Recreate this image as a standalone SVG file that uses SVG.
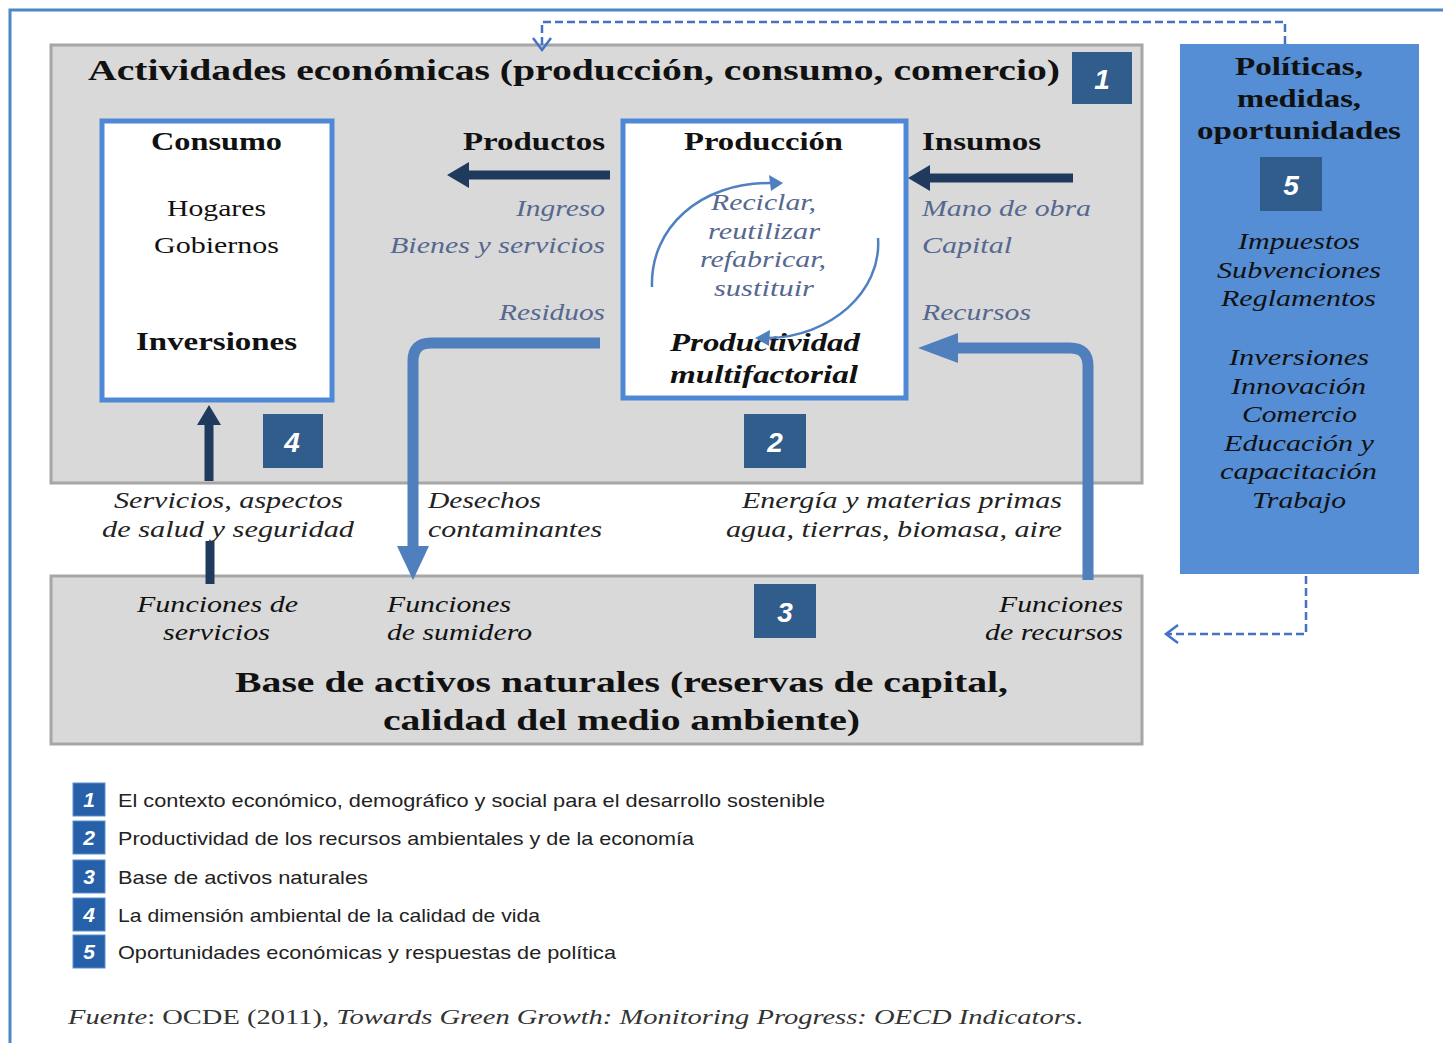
<svg xmlns="http://www.w3.org/2000/svg" width="1443" height="1043" viewBox="0 0 1443 1043">
<defs>
<style>
.ser{font-family:"Liberation Serif","Times New Roman",serif}
.b{font-weight:bold}
.i{font-style:italic}
.t1{font-size:30px;fill:#111}
.hd{font-size:25px;fill:#111}
.lab{font-size:23px;fill:#111}
.lab2{font-size:23px;fill:#222}
.blu{font-size:23px;fill:#56688f}
.pol{font-size:23px;fill:#111}
.num{font-family:"Liberation Sans",Arial,sans-serif;font-style:italic;font-weight:bold;font-size:28px;fill:#fff}
.lnum{font-family:"Liberation Sans",Arial,sans-serif;font-style:italic;font-weight:bold;font-size:21px;fill:#fff}
.leg{font-family:"Liberation Sans",Arial,sans-serif;font-size:19px;fill:#222}
.gray{fill:#d9d9d9;stroke:#a6a6a6;stroke-width:3}
.wbox{fill:#fff;stroke:#4f88d6;stroke-width:5}
.nbox{fill:#315d8d}
.lbox{fill:#2660a8;stroke:#5b8fd0;stroke-width:1}
.navy{stroke:#1f3a5c;stroke-width:9;fill:none}
.navyf{fill:#1f3a5c}
.bl{stroke:#4f7fbd;stroke-width:11;fill:none}
.blf{fill:#4f7fbd}
.dash{stroke:#4472c4;stroke-width:2.5;fill:none;stroke-dasharray:8,4}
.cyc{stroke:#4f80c0;stroke-width:2.5;fill:none}
</style>
</defs>
<rect x="0" y="0" width="1443" height="1043" fill="#fff"/>
<g id="frame">
<path d="M10,1043 V10 H1443" stroke="#4f86c6" stroke-width="3" fill="none"/>
</g>

<g id="actividades">
<rect class="gray" x="51" y="45" width="1091" height="438"/>
<text class="ser b t1" x="88" y="80" textLength="972" lengthAdjust="spacingAndGlyphs">Actividades económicas (producción, consumo, comercio)</text>
<rect class="nbox" x="1072" y="52" width="60" height="52"/>
<text class="num" x="1102" y="89" text-anchor="middle">1</text>
</g>

<g id="consumo">
<rect class="wbox" x="102" y="121" width="230" height="279"/>
<text class="ser b hd" x="151" y="150" textLength="131" lengthAdjust="spacingAndGlyphs">Consumo</text>
<text class="ser lab" x="167" y="216" textLength="99" lengthAdjust="spacingAndGlyphs">Hogares</text>
<text class="ser lab" x="154" y="253" textLength="125" lengthAdjust="spacingAndGlyphs">Gobiernos</text>
<text class="ser b hd" x="136" y="350" textLength="161" lengthAdjust="spacingAndGlyphs">Inversiones</text>
<rect class="nbox" x="263" y="414" width="60" height="54"/>
<text class="num" x="292" y="452" text-anchor="middle">4</text>
</g>

<g id="produccion">
<rect class="wbox" x="623" y="121" width="283" height="277"/>
<text class="ser b hd" x="684" y="150" textLength="159" lengthAdjust="spacingAndGlyphs">Producción</text>
<text class="ser i blu" x="711" y="210" textLength="105" lengthAdjust="spacingAndGlyphs">Reciclar,</text>
<text class="ser i blu" x="708" y="239" textLength="112" lengthAdjust="spacingAndGlyphs">reutilizar</text>
<text class="ser i blu" x="700" y="267" textLength="126" lengthAdjust="spacingAndGlyphs">refabricar,</text>
<text class="ser i blu" x="714" y="296" textLength="100" lengthAdjust="spacingAndGlyphs">sustituir</text>
<text class="ser b i hd" x="670" y="351" textLength="190" lengthAdjust="spacingAndGlyphs">Productividad</text>
<text class="ser b i hd" x="670" y="383" textLength="188" lengthAdjust="spacingAndGlyphs">multifactorial</text>
<path class="cyc" d="M652,287 C650,228 700,182 772,183"/>
<polygon class="blf" points="783,183 769,175 771,191"/>
<path class="cyc" d="M878,238 C882,292 830,337 768,338"/>
<polygon class="blf" points="755,338 770,330 769,346"/>
<rect class="nbox" x="744" y="414" width="62" height="54"/>
<text class="num" x="775" y="452" text-anchor="middle">2</text>
</g>

<g id="labels-flows">
<text class="ser b hd" x="463" y="150" textLength="142" lengthAdjust="spacingAndGlyphs">Productos</text>
<text class="ser i blu" x="516" y="216" textLength="89" lengthAdjust="spacingAndGlyphs">Ingreso</text>
<text class="ser i blu" x="390" y="253" textLength="215" lengthAdjust="spacingAndGlyphs">Bienes y servicios</text>
<text class="ser i blu" x="499" y="320" textLength="106" lengthAdjust="spacingAndGlyphs">Residuos</text>
<text class="ser b hd" x="922" y="150" textLength="119" lengthAdjust="spacingAndGlyphs">Insumos</text>
<text class="ser i blu" x="922" y="216" textLength="169" lengthAdjust="spacingAndGlyphs">Mano de obra</text>
<text class="ser i blu" x="922" y="253" textLength="90" lengthAdjust="spacingAndGlyphs">Capital</text>
<text class="ser i blu" x="922" y="320" textLength="109" lengthAdjust="spacingAndGlyphs">Recursos</text>
<text class="ser i lab2" x="114" y="508" textLength="229" lengthAdjust="spacingAndGlyphs">Servicios, aspectos</text>
<text class="ser i lab2" x="102" y="537" textLength="252" lengthAdjust="spacingAndGlyphs">de salud y seguridad</text>
<text class="ser i lab2" x="428" y="508" textLength="113" lengthAdjust="spacingAndGlyphs">Desechos</text>
<text class="ser i lab2" x="428" y="537" textLength="174" lengthAdjust="spacingAndGlyphs">contaminantes</text>
<text class="ser i lab2" x="742" y="508" textLength="320" lengthAdjust="spacingAndGlyphs">Energía y materias primas</text>
<text class="ser i lab2" x="726" y="537" textLength="336" lengthAdjust="spacingAndGlyphs">agua, tierras, biomasa, aire</text>
</g>

<g id="base">
<rect class="gray" x="51" y="576" width="1091" height="168"/>
<text class="ser i lab" x="137" y="612" textLength="161" lengthAdjust="spacingAndGlyphs">Funciones de</text>
<text class="ser i lab" x="163" y="640" textLength="107" lengthAdjust="spacingAndGlyphs">servicios</text>
<text class="ser i lab" x="387" y="612" textLength="124" lengthAdjust="spacingAndGlyphs">Funciones</text>
<text class="ser i lab" x="387" y="640" textLength="145" lengthAdjust="spacingAndGlyphs">de sumidero</text>
<text class="ser i lab" x="999" y="612" textLength="124" lengthAdjust="spacingAndGlyphs">Funciones</text>
<text class="ser i lab" x="985" y="640" textLength="138" lengthAdjust="spacingAndGlyphs">de recursos</text>
<rect class="nbox" x="754" y="584" width="62" height="54"/>
<text class="num" x="785" y="622" text-anchor="middle">3</text>
<text class="ser b t1" x="235" y="692" textLength="773" lengthAdjust="spacingAndGlyphs">Base de activos naturales (reservas de capital,</text>
<text class="ser b t1" x="383" y="730" textLength="477" lengthAdjust="spacingAndGlyphs">calidad del medio ambiente)</text>
</g>

<g id="politicas">
<rect x="1180" y="44" width="239" height="530" fill="#558ed5"/>
<text class="ser b hd" x="1235" y="75" textLength="128" lengthAdjust="spacingAndGlyphs">Políticas,</text>
<text class="ser b hd" x="1237" y="107" textLength="124" lengthAdjust="spacingAndGlyphs">medidas,</text>
<text class="ser b hd" x="1197" y="139" textLength="204" lengthAdjust="spacingAndGlyphs">oportunidades</text>
<rect class="nbox" x="1260" y="157" width="62" height="54"/>
<text class="num" x="1291" y="195" text-anchor="middle">5</text>
<text class="ser i pol" x="1238" y="249" textLength="122" lengthAdjust="spacingAndGlyphs">Impuestos</text>
<text class="ser i pol" x="1217" y="278" textLength="164" lengthAdjust="spacingAndGlyphs">Subvenciones</text>
<text class="ser i pol" x="1221" y="306" textLength="155" lengthAdjust="spacingAndGlyphs">Reglamentos</text>
<text class="ser i pol" x="1229" y="365" textLength="140" lengthAdjust="spacingAndGlyphs">Inversiones</text>
<text class="ser i pol" x="1231" y="394" textLength="135" lengthAdjust="spacingAndGlyphs">Innovación</text>
<text class="ser i pol" x="1242" y="422" textLength="115" lengthAdjust="spacingAndGlyphs">Comercio</text>
<text class="ser i pol" x="1224" y="451" textLength="150" lengthAdjust="spacingAndGlyphs">Educación y</text>
<text class="ser i pol" x="1220" y="479" textLength="157" lengthAdjust="spacingAndGlyphs">capacitación</text>
<text class="ser i pol" x="1252" y="508" textLength="94" lengthAdjust="spacingAndGlyphs">Trabajo</text>
</g>

<g id="connectors">
<line class="navy" x1="610" y1="175" x2="466" y2="175"/>
<polygon class="navyf" points="447,175 469,162 469,188"/>
<line class="navy" x1="1073" y1="178" x2="928" y2="178"/>
<polygon class="navyf" points="908,178 930,165 930,191"/>
<line class="navy" x1="209" y1="481" x2="209" y2="422"/>
<polygon class="navyf" points="209,405 197,425 221,425"/>
<line class="navy" x1="210" y1="541" x2="210" y2="584"/>
<path class="bl" d="M600,343 H431 Q413,343 413,361 V548"/>
<polygon class="blf" points="397,546 429,546 413,580"/>
<path class="bl" d="M1088,580 V366 Q1088,348 1070,348 H956"/>
<polygon class="blf" points="958,333 958,363 918,348"/>
<path class="dash" d="M1285,44 V22 H542 V48"/>
<path d="M533,38 L542,50 L551,38" stroke="#4472c4" stroke-width="2.5" fill="none"/>
<path class="dash" d="M1306,576 V634 H1168"/>
<path d="M1178,625 L1166,634 L1178,643" stroke="#4472c4" stroke-width="2.5" fill="none"/>
</g>

<g id="legend">
<rect class="lbox" x="73" y="783" width="32" height="33"/>
<text class="lnum" x="89" y="807" text-anchor="middle">1</text>
<text class="leg" x="118" y="807" textLength="707" lengthAdjust="spacingAndGlyphs">El contexto económico, demográfico y social para el desarrollo sostenible</text>
<rect class="lbox" x="73" y="821" width="32" height="33"/>
<text class="lnum" x="89" y="845" text-anchor="middle">2</text>
<text class="leg" x="118" y="845" textLength="576" lengthAdjust="spacingAndGlyphs">Productividad de los recursos ambientales y de la economía</text>
<rect class="lbox" x="73" y="860" width="32" height="33"/>
<text class="lnum" x="89" y="884" text-anchor="middle">3</text>
<text class="leg" x="118" y="884" textLength="250" lengthAdjust="spacingAndGlyphs">Base de activos naturales</text>
<rect class="lbox" x="73" y="898" width="32" height="33"/>
<text class="lnum" x="89" y="922" text-anchor="middle">4</text>
<text class="leg" x="118" y="922" textLength="422" lengthAdjust="spacingAndGlyphs">La dimensión ambiental de la calidad de vida</text>
<rect class="lbox" x="73" y="935" width="32" height="33"/>
<text class="lnum" x="89" y="959" text-anchor="middle">5</text>
<text class="leg" x="118" y="959" textLength="498" lengthAdjust="spacingAndGlyphs">Oportunidades económicas y respuestas de política</text>
</g>

<g id="fuente">
<text class="ser" x="68" y="1024" font-size="22" fill="#333" textLength="1015" lengthAdjust="spacingAndGlyphs"><tspan font-style="italic">Fuente</tspan>: OCDE (2011), <tspan font-style="italic">Towards Green Growth: Monitoring Progress: OECD Indicators</tspan>.</text>
</g>
</svg>
